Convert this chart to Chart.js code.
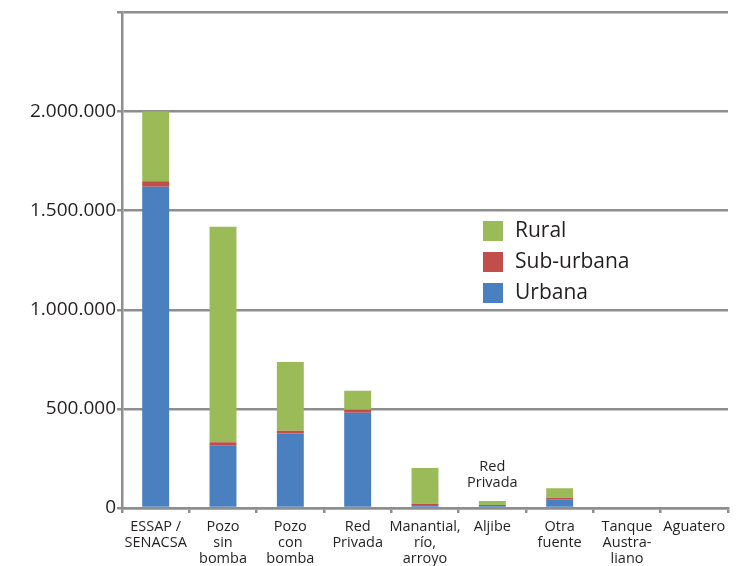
<!DOCTYPE html>
<html>
<head>
<meta charset="utf-8">
<script src="https://cdn.jsdelivr.net/npm/chart.js@4.4.1/dist/chart.umd.min.js"></script>
<style>
  html, body { margin: 0; padding: 0; background: #fff; }
  #wrap { width: 738px; height: 566px; position: relative; }
</style>
</head>
<body>
<div id="wrap"><canvas id="c" width="738" height="566"></canvas></div>
<script>
// ---- data ----
const categories = [
  ["ESSAP /", "SENACSA"],
  ["Pozo", "sin", "bomba"],
  ["Pozo", "con", "bomba"],
  ["Red", "Privada"],
  ["Manantial,", "río,", "arroyo"],
  ["Aljibe"],
  ["Otra", "fuente"],
  ["Tanque", "Austra-", "liano"],
  ["Aguatero"]
];
const seriesNames = ["Urbana", "Sub-urbana", "Rural"];
const urbana    = [1620000, 314000, 376000, 480000, 15000, 10000, 44000, 0, 0];
const subUrbana = [  28000,  18000,  14000,  15000,  7000,  5000,  8000, 0, 0];
const rural     = [ 352000, 1087000, 347000,  97000, 180000, 20000, 48000, 0, 0];
const yTickValues = [0, 500000, 1000000, 1500000, 2000000, 2500000];
const yTickLabels = ["0", "500.000", "1.000.000", "1.500.000", "2.000.000", ""];
const annotationCategory = 5;           // Aljibe
const annotationLines = ["Red", "Privada"];
const annotationValue = 205000;         // first line anchor

const colors = ["#4A7FC0", "#C24E4C", "#9BBB59"];
const GRID = "#8e8e8e";
const FONT = "'Open Sans', 'Noto Sans', sans-serif";
const TEXT = "#231f20";

const legendPlugin = {
  id: "customLegend",
  afterDraw(chart) {
    const ctx = chart.ctx;
    ctx.save();
    const items = chart.data.datasets.slice().reverse();
    const x0 = 483, y0 = 221, step = 31;
    ctx.font = "21px " + FONT;
    ctx.textBaseline = "middle";
    ctx.textAlign = "left";
    items.forEach((ds, i) => {
      ctx.fillStyle = ds.backgroundColor;
      ctx.fillRect(x0, y0 + i * step, 20, 20);
      ctx.fillStyle = TEXT;
      ctx.fillText(ds.label, x0 + 32, y0 + i * step + 10);
    });
    // annotation text above Aljibe
    const xs = chart.scales.x, ys = chart.scales.y;
    const ax = xs.getPixelForValue(annotationCategory);
    const ay = ys.getPixelForValue(annotationValue);
    ctx.font = "14.5px " + FONT;
    ctx.textAlign = "center";
    annotationLines.forEach((t, i) => ctx.fillText(t, ax, ay + i * 15.5));
    ctx.restore();
  }
};

new Chart(document.getElementById("c"), {
  type: "bar",
  data: {
    labels: categories,
    datasets: [
      { label: seriesNames[0], data: urbana, backgroundColor: colors[0] },
      { label: seriesNames[1], data: subUrbana, backgroundColor: colors[1] },
      { label: seriesNames[2], data: rural, backgroundColor: colors[2] }
    ]
  },
  options: {
    responsive: false,
    animation: false,
    layout: { padding: { top: 9, right: 10, left: 0, bottom: 0 } },
    datasets: { bar: { categoryPercentage: 0.4, barPercentage: 1.0, borderWidth: 0 } },
    plugins: { legend: { display: false }, tooltip: { enabled: false } },
    scales: {
      x: {
        stacked: true,
        grid: { display: true, drawOnChartArea: false, drawTicks: true, tickLength: 5, color: GRID, lineWidth: 2.5, offset: true },
        border: { display: true, color: GRID, width: 2.5 },
        ticks: { color: TEXT, font: { family: FONT, size: 14.5, lineHeight: 1.1 }, padding: 6, maxRotation: 0, autoSkip: false },
        afterFit(s) { s.height = 58; }
      },
      y: {
        stacked: true,
        min: 0, max: 2500000,
        afterBuildTicks(s) { s.ticks = yTickValues.map(v => ({ value: v })); },
        grid: { color: GRID, lineWidth: 2.5, tickLength: 5, drawTicks: true },
        border: { display: true, color: GRID, width: 2.5 },
        ticks: {
          color: TEXT, padding: 1,
          font: { family: FONT, size: 19 },
          callback(v) { const i = yTickValues.indexOf(v); return i >= 0 ? yTickLabels[i] : ""; }
        },
        afterFit(s) { s.width = 122; }
      }
    }
  },
  plugins: [legendPlugin]
});
</script>
</body>
</html>
